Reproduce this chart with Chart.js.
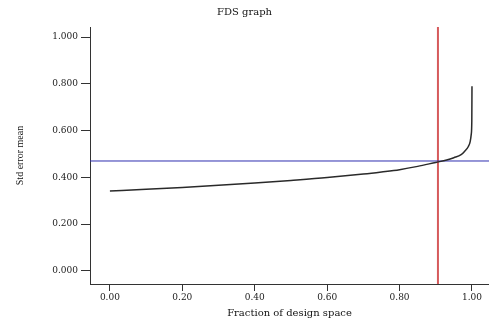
<!DOCTYPE html>
<html>
<head>
<meta charset="utf-8">
<script src="https://cdn.jsdelivr.net/npm/chart.js@4"></script>
<style>
html,body{margin:0;padding:0;background:#fff;}
#c{display:block;}
</style>
</head>
<body>
<canvas id="c" width="489" height="322"></canvas>
<script>
const fraction = [0, 0.1, 0.2, 0.3, 0.4, 0.5, 0.6, 0.7, 0.75, 0.8, 0.85, 0.9, 0.93, 0.95, 0.97, 0.98, 0.99, 0.995, 0.998, 0.9995, 1.0];
const stdErrMean = [0.342, 0.349, 0.357, 0.366, 0.376, 0.387, 0.399, 0.414, 0.423, 0.433, 0.447, 0.464, 0.474, 0.484, 0.497, 0.512, 0.532, 0.553, 0.585, 0.64, 0.79];
const xTicks = [0, 0.2, 0.4, 0.6, 0.8, 1.0];
const yTicks = [0, 0.2, 0.4, 0.6, 0.8, 1.0];
const refFraction = 0.906;
const refStdErr = 0.47;
const xRange = [-0.055, 1.047];
const yRange = [-0.056, 1.043];

const serif = "'DejaVu Serif', 'Liberation Serif', serif";

new Chart(document.getElementById('c'), {
  type: 'line',
  data: {
    datasets: [
      {
        data: fraction.map((x, i) => ({x: x, y: stdErrMean[i]})),
        borderColor: '#2a2a2a',
        borderWidth: 1.5,
        pointRadius: 0,
        cubicInterpolationMode: 'monotone',
        fill: false
      },
      {
        data: [{x: xRange[0], y: refStdErr}, {x: xRange[1], y: refStdErr}],
        borderColor: '#2e2eb0',
        borderWidth: 1,
        pointRadius: 0,
        fill: false
      },
      {
        data: [{x: refFraction, y: yRange[0]}, {x: refFraction, y: yRange[1]}],
        borderColor: '#d65a5c',
        borderWidth: 2,
        pointRadius: 0,
        fill: false
      }
    ]
  },
  options: {
    responsive: false,
    animation: false,
    events: [],
    layout: {padding: 0},
    plugins: {
      legend: {display: false},
      tooltip: {enabled: false},
      title: {
        display: true,
        text: 'FDS graph',
        color: '#111',
        font: {family: serif, size: 10, weight: 'normal', lineHeight: 1.2},
        padding: {top: 6, bottom: 9}
      }
    },
    scales: {
      x: {
        type: 'linear',
        min: xRange[0],
        max: xRange[1],
        afterBuildTicks: s => { s.ticks = xTicks.map(v => ({value: v})); },
        afterFit: s => { s.height = 38; },
        ticks: {
          callback: v => Number(v).toFixed(2),
          color: '#1a1a1a',
          font: {family: serif, size: 9},
          padding: 1,
          maxRotation: 0,
          autoSkip: false
        },
        grid: {drawOnChartArea: false, drawTicks: true, tickLength: 7, color: '#333', lineWidth: 1},
        border: {display: true, color: '#333', width: 1},
        title: {
          display: true,
          text: 'Fraction of design space',
          color: '#111',
          font: {family: serif, size: 10, lineHeight: 1.2},
          padding: {top: 0, bottom: 3}
        }
      },
      y: {
        type: 'linear',
        min: yRange[0],
        max: yRange[1],
        afterBuildTicks: s => { s.ticks = yTicks.map(v => ({value: v})); },
        afterFit: s => { s.width = 90; },
        ticks: {
          callback: v => Number(v).toFixed(3),
          color: '#1a1a1a',
          font: {family: serif, size: 9},
          padding: 3,
          autoSkip: false
        },
        grid: {drawOnChartArea: false, drawTicks: true, tickLength: 9, color: '#333', lineWidth: 1},
        border: {display: true, color: '#333', width: 1},
        title: {
          display: true,
          text: 'Std error mean',
          color: '#111',
          font: {family: "'Liberation Sans Narrow', 'Liberation Serif', serif", size: 10, lineHeight: 1.2},
          padding: {top: 14, bottom: 0}
        }
      }
    }
  }
});
</script>
</body>
</html>
